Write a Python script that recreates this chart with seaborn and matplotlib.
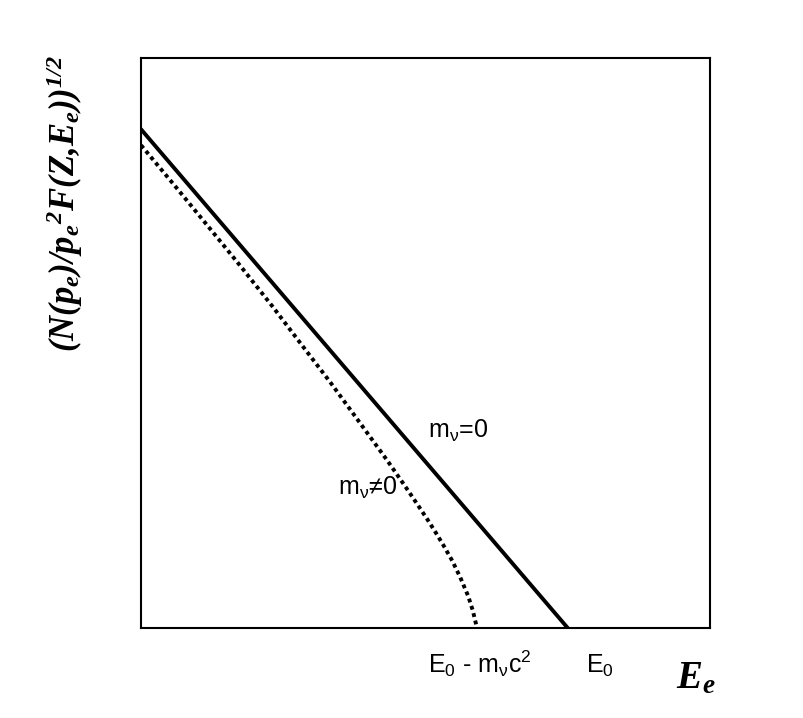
import pandas as pd
import seaborn as sns
import matplotlib.pyplot as plt

# Kurie plot: E_e on x (0..10), sqrt term on y (0..10)
e_massless = [0.00, 7.50]
k_massless = [8.75, 0.00]

e_massive = [0.00, 0.56, 1.16, 1.74, 2.32, 2.86, 3.32, 3.73, 4.32, 4.64,
             4.85, 5.03, 5.17, 5.31, 5.47, 5.61, 5.75, 5.83, 5.90]
k_massive = [8.47, 7.80, 7.07, 6.36, 5.63, 4.92, 4.32, 3.76, 2.95, 2.49,
             2.18, 1.91, 1.69, 1.46, 1.18, 0.89, 0.56, 0.31, 0.02]

curve_labels = [r'm$_\mathregular{\nu}$=0', r'm$_\mathregular{\nu}$≠0']
tick_labels = [r'E$_\mathregular{0}$ - m$_\mathregular{\nu}$c$^\mathregular{2}$', r'E$_\mathregular{0}$']

sns.set_style('white')
plt.rcParams['font.family'] = ['Liberation Sans', 'DejaVu Sans']
plt.rcParams['text.color'] = 'black'

df0 = pd.DataFrame({'E': e_massless, 'K': k_massless})
df1 = pd.DataFrame({'E': e_massive, 'K': k_massive})

fig = plt.figure(figsize=(8.04, 7.18), dpi=100)
ax = fig.add_axes([0.1754, 0.1253, 0.7077, 0.7939])

sns.lineplot(data=df0, x='E', y='K', ax=ax, color='black', lw=2.8)
sns.lineplot(data=df1, x='E', y='K', ax=ax, color='black', lw=2.8,
             linestyle=(0, (1.0, 0.95)))

ax.set_xlim(0, 10)
ax.set_ylim(0, 10)
ax.set_xticks([])
ax.set_yticks([])
ax.set_xlabel('')
ax.set_ylabel('')
for sp in ax.spines.values():
    sp.set_visible(True)
    sp.set_color('black')
    sp.set_linewidth(1.5)

ax.text(5.04, 3.33, curve_labels[0], fontsize=18, va='baseline')
ax.text(3.46, 2.33, curve_labels[1], fontsize=18, va='baseline')
ax.text(5.04, -0.79, tick_labels[0], fontsize=18, va='baseline', clip_on=False)
ax.text(7.82, -0.79, tick_labels[1], fontsize=18, va='baseline', clip_on=False)

serif = dict(family='Liberation Serif', weight='bold', style='italic')
fig.text(65 / 804, 1 - 203 / 718, r'$\mathregular{(N(p_e)/p_e{}^2F(Z{,}E_e))^{1/2}}$',
         fontsize=25, rotation=90, ha='center', va='center', **serif)
fig.text(676 / 804, 1 - 688 / 718, r'$\mathregular{E_e}$', fontsize=28,
         ha='left', va='baseline', **serif)

fig.savefig('out.png', dpi=100)
